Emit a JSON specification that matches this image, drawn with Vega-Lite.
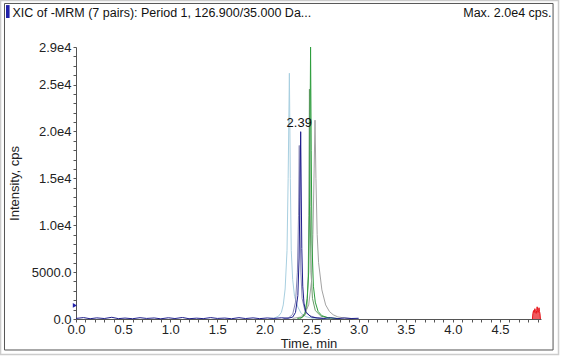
{
  "$schema": "https://vega.github.io/schema/vega-lite/v6.json",
  "width": 465,
  "height": 272,
  "autosize": {"type": "none"},
  "padding": {"left": 76, "top": 47, "right": 23, "bottom": 44},
  "background": "white",
  "config": {
    "font": "Liberation Sans",
    "view": {"stroke": null},
    "axis": {
      "labelColor": "#222",
      "titleColor": "#222",
      "domainColor": "#555",
      "tickColor": "#555",
      "grid": false,
      "labelFontSize": 13,
      "titleFontSize": 13,
      "titleFontWeight": "normal",
      "labelOverlap": false,
      "labelFlush": false
    }
  },
  "datasets": {
    "lines": [
      {"t": 2.05, "v": 40, "s": "a"}, {"t": 2.1, "v": 80, "s": "a"}, {"t": 2.15, "v": 300, "s": "a"}, {"t": 2.18, "v": 700, "s": "a"}, {"t": 2.2, "v": 1500, "s": "a"}, {"t": 2.22, "v": 3200, "s": "a"}, {"t": 2.24, "v": 7300, "s": "a"}, {"t": 2.252, "v": 15000, "s": "a"}, {"t": 2.265, "v": 26200, "s": "a"}, {"t": 2.275, "v": 15000, "s": "a"}, {"t": 2.285, "v": 7300, "s": "a"}, {"t": 2.3, "v": 4200, "s": "a"}, {"t": 2.32, "v": 2400, "s": "a"}, {"t": 2.355, "v": 1280, "s": "a"}, {"t": 2.39, "v": 600, "s": "a"}, {"t": 2.44, "v": 250, "s": "a"}, {"t": 2.5, "v": 100, "s": "a"}, {"t": 2.6, "v": 40, "s": "a"}, {"t": 2.7, "v": 20, "s": "a"},
      {"t": 2.2, "v": 30, "s": "b"}, {"t": 2.26, "v": 150, "s": "b"}, {"t": 2.3, "v": 500, "s": "b"}, {"t": 2.33, "v": 1800, "s": "b"}, {"t": 2.35, "v": 5000, "s": "b"}, {"t": 2.362, "v": 11000, "s": "b"}, {"t": 2.37, "v": 18500, "s": "b"}, {"t": 2.377, "v": 11000, "s": "b"}, {"t": 2.387, "v": 5000, "s": "b"}, {"t": 2.4, "v": 2200, "s": "b"}, {"t": 2.43, "v": 900, "s": "b"}, {"t": 2.48, "v": 350, "s": "b"}, {"t": 2.55, "v": 120, "s": "b"}, {"t": 2.65, "v": 40, "s": "b"},
      {"t": 2.38, "v": 60, "s": "g"}, {"t": 2.43, "v": 400, "s": "g"}, {"t": 2.45, "v": 1200, "s": "g"}, {"t": 2.465, "v": 4500, "s": "g"}, {"t": 2.472, "v": 11000, "s": "g"}, {"t": 2.478, "v": 24500, "s": "g"}, {"t": 2.485, "v": 12000, "s": "g"}, {"t": 2.495, "v": 5000, "s": "g"}, {"t": 2.51, "v": 2200, "s": "g"}, {"t": 2.54, "v": 900, "s": "g"}, {"t": 2.6, "v": 300, "s": "g"}, {"t": 2.7, "v": 80, "s": "g"},
      {"t": 2.3, "v": 60, "s": "e"}, {"t": 2.38, "v": 200, "s": "e"}, {"t": 2.43, "v": 600, "s": "e"}, {"t": 2.47, "v": 1500, "s": "e"}, {"t": 2.5, "v": 4000, "s": "e"}, {"t": 2.515, "v": 9000, "s": "e"}, {"t": 2.528, "v": 16000, "s": "e"}, {"t": 2.537, "v": 21200, "s": "e"}, {"t": 2.547, "v": 15000, "s": "e"}, {"t": 2.56, "v": 9000, "s": "e"}, {"t": 2.575, "v": 6000, "s": "e"}, {"t": 2.61, "v": 3100, "s": "e"}, {"t": 2.65, "v": 1500, "s": "e"}, {"t": 2.69, "v": 800, "s": "e"}, {"t": 2.73, "v": 450, "s": "e"}, {"t": 2.78, "v": 220, "s": "e"}, {"t": 2.86, "v": 90, "s": "e"}, {"t": 2.95, "v": 40, "s": "e"}, {"t": 3.0, "v": 20, "s": "e"},
      {"t": 2.35, "v": 50, "s": "d"}, {"t": 2.4, "v": 150, "s": "d"}, {"t": 2.43, "v": 600, "s": "d"}, {"t": 2.455, "v": 2200, "s": "d"}, {"t": 2.47, "v": 5000, "s": "d"}, {"t": 2.48, "v": 13000, "s": "d"}, {"t": 2.49, "v": 29000, "s": "d"}, {"t": 2.497, "v": 18000, "s": "d"}, {"t": 2.505, "v": 8000, "s": "d"}, {"t": 2.52, "v": 3500, "s": "d"}, {"t": 2.54, "v": 1800, "s": "d"}, {"t": 2.57, "v": 800, "s": "d"}, {"t": 2.61, "v": 350, "s": "d"}, {"t": 2.68, "v": 120, "s": "d"}, {"t": 2.8, "v": 40, "s": "d"},
      {"t": 0.0, "v": 60, "s": "c"}, {"t": 0.08, "v": 150, "s": "c"}, {"t": 0.15, "v": 30, "s": "c"}, {"t": 0.22, "v": 120, "s": "c"}, {"t": 0.3, "v": 50, "s": "c"}, {"t": 0.38, "v": 180, "s": "c"}, {"t": 0.45, "v": 40, "s": "c"}, {"t": 0.52, "v": 100, "s": "c"}, {"t": 0.6, "v": 30, "s": "c"}, {"t": 0.68, "v": 140, "s": "c"}, {"t": 0.75, "v": 60, "s": "c"}, {"t": 0.83, "v": 110, "s": "c"}, {"t": 0.9, "v": 20, "s": "c"}, {"t": 0.98, "v": 130, "s": "c"}, {"t": 1.05, "v": 50, "s": "c"}, {"t": 1.13, "v": 160, "s": "c"}, {"t": 1.2, "v": 30, "s": "c"}, {"t": 1.28, "v": 90, "s": "c"}, {"t": 1.35, "v": 40, "s": "c"}, {"t": 1.43, "v": 150, "s": "c"}, {"t": 1.5, "v": 60, "s": "c"}, {"t": 1.58, "v": 100, "s": "c"}, {"t": 1.65, "v": 30, "s": "c"}, {"t": 1.73, "v": 140, "s": "c"}, {"t": 1.8, "v": 50, "s": "c"}, {"t": 1.88, "v": 120, "s": "c"}, {"t": 1.95, "v": 40, "s": "c"}, {"t": 2.03, "v": 110, "s": "c"}, {"t": 2.1, "v": 60, "s": "c"}, {"t": 2.18, "v": 130, "s": "c"}, {"t": 2.25, "v": 80, "s": "c"}, {"t": 2.3, "v": 200, "s": "c"}, {"t": 2.33, "v": 700, "s": "c"}, {"t": 2.355, "v": 2500, "s": "c"}, {"t": 2.368, "v": 6500, "s": "c"}, {"t": 2.377, "v": 13000, "s": "c"}, {"t": 2.385, "v": 19970, "s": "c"}, {"t": 2.39, "v": 14500, "s": "c"}, {"t": 2.397, "v": 7500, "s": "c"}, {"t": 2.407, "v": 3500, "s": "c"}, {"t": 2.42, "v": 1700, "s": "c"}, {"t": 2.44, "v": 700, "s": "c"}, {"t": 2.5, "v": 200, "s": "c"}, {"t": 2.56, "v": 120, "s": "c"}, {"t": 2.63, "v": 60, "s": "c"}, {"t": 2.7, "v": 140, "s": "c"}, {"t": 2.78, "v": 40, "s": "c"}, {"t": 2.85, "v": 110, "s": "c"}, {"t": 2.92, "v": 50, "s": "c"}, {"t": 3.0, "v": 80, "s": "c"}
    ],
    "red": [
      {"t": 4.845, "v": 0}, {"t": 4.85, "v": 600}, {"t": 4.857, "v": 900}, {"t": 4.864, "v": 700}, {"t": 4.871, "v": 1100}, {"t": 4.878, "v": 800}, {"t": 4.885, "v": 600}, {"t": 4.89, "v": 900}, {"t": 4.895, "v": 1300}, {"t": 4.9, "v": 1000}, {"t": 4.905, "v": 700}, {"t": 4.91, "v": 900}, {"t": 4.915, "v": 1200}, {"t": 4.92, "v": 800}, {"t": 4.925, "v": 600}, {"t": 4.93, "v": 0}
    ]
  },
  "resolve": {"axis": {"x": "independent", "y": "independent"}},
  "layer": [
    {
      "data": {"name": "lines"},
      "mark": {"type": "line", "strokeWidth": 1, "interpolate": "linear"},
      "encoding": {
        "x": {
          "field": "t", "type": "quantitative",
          "scale": {"domain": [0, 4.936], "nice": false, "zero": false},
          "axis": {
            "orient": "bottom",
            "title": "Time, min",
            "values": [0, 0.1, 0.2, 0.3, 0.4, 0.5, 0.6, 0.7, 0.8, 0.9, 1.0, 1.1, 1.2, 1.3, 1.4, 1.5, 1.6, 1.7, 1.8, 1.9, 2.0, 2.1, 2.2, 2.3, 2.4, 2.5, 2.6, 2.7, 2.8, 2.9, 3.0, 3.1, 3.2, 3.3, 3.4, 3.5, 3.6, 3.7, 3.8, 3.9, 4.0, 4.1, 4.2, 4.3, 4.4, 4.5, 4.6, 4.7, 4.8, 4.9],
            "labelExpr": "abs(datum.value * 2 - round(datum.value * 2)) < 0.001 ? format(datum.value, '.1f') : ''",
            "tickSize": 3,
            "labelPadding": 1,
            "titlePadding": 1
          }
        },
        "y": {
          "field": "v", "type": "quantitative",
          "scale": {"domain": [0, 29000], "nice": false},
          "axis": {
            "orient": "left",
            "title": "Intensity, cps",
            "values": [0, 1000, 2000, 3000, 4000, 5000, 6000, 7000, 8000, 9000, 10000, 11000, 12000, 13000, 14000, 15000, 16000, 17000, 18000, 19000, 20000, 21000, 22000, 23000, 24000, 25000, 26000, 27000, 28000, 29000],
            "labelExpr": "datum.value == 0 ? '0.0' : datum.value == 5000 ? '5000.0' : (datum.value % 5000 == 0 || datum.value == 29000) ? replace(format(datum.value, '.1e'), '+', '') : ''",
            "tickSize": 3,
            "labelPadding": 2,
            "titlePadding": 10
          }
        },
        "color": {
          "field": "s", "type": "nominal",
          "scale": {"domain": ["a", "b", "g", "e", "d", "c"], "range": ["#a8cfe0", "#8a8ab8", "#6a9a6a", "#a3a3a3", "#2e9e3e", "#1f1f8c"]},
          "legend": null
        }
      }
    },
    {
      "data": {"values": [{}]},
      "mark": {"type": "rect", "fill": null, "stroke": "#cccccc", "strokeWidth": 1.5},
      "encoding": {
        "x": {"datum": -0.801, "type": "quantitative", "axis": null},
        "x2": {"datum": 5.122},
        "y": {"datum": -3785, "type": "quantitative", "axis": null},
        "y2": {"datum": 33960}
      }
    },
    {
      "data": {"values": [{}]},
      "mark": {"type": "rect", "fill": null, "stroke": "#555555", "strokeWidth": 1},
      "encoding": {
        "x": {"datum": -0.759, "type": "quantitative", "axis": null},
        "x2": {"datum": 5.064},
        "y": {"datum": -3305, "type": "quantitative", "axis": null},
        "y2": {"datum": 33640}
      }
    },
    {
      "data": {"values": [{}]},
      "mark": {"type": "rect", "fill": "#2222aa"},
      "encoding": {
        "x": {"datum": -0.743, "type": "quantitative", "axis": null},
        "x2": {"datum": -0.705},
        "y": {"datum": 32090, "type": "quantitative", "axis": null},
        "y2": {"datum": 33470}
      }
    },
    {
      "data": {"name": "red"},
      "mark": {"type": "area", "color": "#e8141a", "line": {"color": "#e8141a", "strokeWidth": 1}},
      "encoding": {
        "x": {"field": "t", "type": "quantitative", "axis": null},
        "y": {"field": "v", "type": "quantitative", "axis": null}
      }
    },
    {
      "data": {"values": [{"t": -0.012, "v": 1450}]},
      "mark": {"type": "point", "shape": "triangle-right", "filled": true, "color": "#2222aa", "size": 22, "opacity": 1},
      "encoding": {
        "x": {
          "field": "t", "type": "quantitative",
          "axis": {
            "orient": "top",
            "title": "XIC of -MRM (7 pairs): Period 1, 126.900/35.000 Da...",
            "labels": false,
            "ticks": false,
            "domain": false,
            "titleX": -64,
            "titleY": -31,
            "titleAlign": "left",
            "titleAnchor": "start",
            "titleBaseline": "alphabetic",
            "titleFontSize": 12.5,
            "titleColor": "#111"
          }
        },
        "y": {"field": "v", "type": "quantitative", "axis": null}
      }
    },
    {
      "data": {"values": [{"t": 2.37, "v": 19970, "label": "2.39"}]},
      "mark": {"type": "text", "baseline": "bottom", "align": "center", "dy": -2, "fontSize": 13, "color": "#111"},
      "encoding": {
        "x": {
          "field": "t", "type": "quantitative",
          "axis": {
            "orient": "top",
            "title": "Max. 2.0e4 cps.",
            "labels": false,
            "ticks": false,
            "domain": false,
            "titleX": 475,
            "titleY": -31,
            "titleAlign": "right",
            "titleBaseline": "alphabetic",
            "titleFontSize": 12.5,
            "titleColor": "#111"
          }
        },
        "y": {"field": "v", "type": "quantitative", "axis": null},
        "text": {"field": "label"}
      }
    }
  ]
}
